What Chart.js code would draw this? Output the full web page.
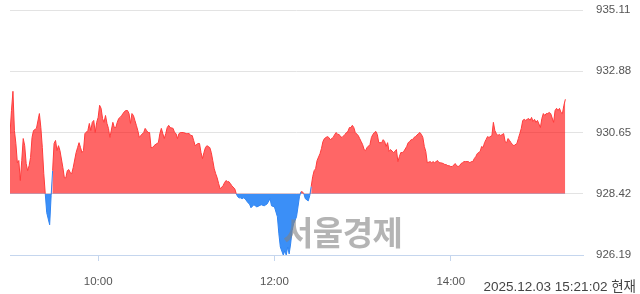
<!DOCTYPE html>
<html>
<head>
<meta charset="utf-8">
<script src="https://cdn.jsdelivr.net/npm/chart.js@4.4.1/dist/chart.umd.min.js"></script>
<style>
  body { margin: 0; background: #fff; }
  #wrap { position: relative; width: 640px; height: 294px; }
  .mark { position: absolute; left: 283px; top: 214px; font: bold 33px/34px "Noto Sans CJK KR"; color: rgba(130,130,130,0.6); letter-spacing: -0.5px; }
  .stamp { position: absolute; right: 4px; top: 280px; font: 13.5px/14px "Liberation Sans", "Noto Sans CJK KR"; color: #444; }
</style>
</head>
<body>
<div id="wrap">
  <canvas id="kospi" width="640" height="294"></canvas>
  <div class="mark">서울경제</div>
  <div class="stamp">2025.12.03 15:21:02 현재</div>
</div>
<script>
// 전일 종가 기준선
const baseValue = 928.42;
const yTicks = [926.19, 928.42, 930.65, 932.88, 935.11];
// 10:00, 12:00, 14:00 (09:00 기준 분)
const xTicks = [60, 180, 300];

// 09:00 부터 경과 분
const minutesFromOpen = [
  0, 1, 2, 3, 4, 5, 6, 7, 8, 9, 10, 11, 12, 13, 14, 15, 16, 18, 20, 21,
  22, 23, 24, 25, 27, 28, 29, 30, 31, 32, 33, 34, 36, 37, 38, 39, 40, 41, 42, 43,
  45, 46, 47, 48, 49, 50, 51, 53, 54, 55, 56, 57, 58, 59, 60, 61, 62, 63, 64, 65,
  66, 67, 68, 70, 71, 72, 73, 74, 75, 76, 78, 79, 80, 81, 82, 83, 84, 85, 86, 87,
  88, 89, 91, 92, 93, 94, 95, 96, 97, 98, 100, 101, 102, 103, 104, 105, 106, 107, 108, 109,
  111, 112, 113, 114, 115, 116, 117, 118, 120, 121, 122, 123, 124, 125, 126, 128, 129, 130, 131, 132,
  133, 134, 136, 137, 138, 139, 140, 141, 142, 143, 145, 146, 147, 148, 149, 150, 151, 153, 154, 155,
  156, 157, 158, 159, 160, 162, 163, 164, 166, 168, 171, 173, 175, 177, 178, 180, 182, 183, 184, 186,
  187, 188, 189, 190, 191, 192, 193, 195, 196, 197, 198, 199, 200, 201, 203, 204, 205, 206, 207, 208,
  209, 211, 212, 213, 214, 216, 217, 218, 220, 221, 222, 223, 224, 225, 226, 228, 229, 230, 231, 232,
  233, 234, 235, 237, 238, 239, 240, 241, 242, 243, 245, 246, 247, 248, 249, 250, 251, 253, 254, 255,
  256, 257, 258, 259, 261, 262, 263, 264, 265, 266, 267, 268, 270, 271, 272, 273, 274, 275, 276, 278,
  279, 280, 281, 282, 283, 284, 286, 287, 288, 289, 290, 291, 292, 293, 295, 296, 297, 298, 299, 300,
  301, 303, 304, 305, 306, 307, 308, 309, 310, 312, 313, 314, 315, 316, 317, 318, 320, 321, 322, 323,
  324, 325, 326, 328, 329, 330, 331, 332, 333, 334, 336, 337, 338, 339, 340, 341, 342, 343, 345, 346,
  347, 348, 349, 350, 351, 352, 353, 354, 355, 356, 357, 358, 359, 361, 362, 363, 364, 365, 366, 367,
  368, 370, 371, 372, 373, 374, 375, 376, 377, 378
];

const prices = [
  930.61, 931.45, 932.15, 930.72, 930.25, 929.55, 929.63, 928.90, 929.63, 930.43, 930.17, 929.52, 929.26, 929.44, 929.74, 930.47, 930.72, 930.80, 931.34, 930.83,
  930.10, 929.15, 928.42, 927.73, 927.29, 928.35, 929.26, 930.25, 930.36, 929.99, 930.17, 929.99, 929.37, 929.00, 929.00, 929.26, 929.30, 929.19, 929.15, 929.37,
  929.92, 930.10, 930.28, 930.10, 929.92, 929.99, 930.61, 930.72, 930.98, 930.72, 931.02, 931.09, 930.65, 931.02, 931.20, 931.64, 931.53, 931.16, 931.02, 931.27,
  930.98, 930.80, 930.47, 931.02, 930.83, 930.83, 931.02, 931.16, 931.20, 931.27, 931.42, 931.45, 931.45, 931.34, 930.98, 931.34, 931.27, 931.09, 930.91, 930.72,
  930.47, 930.54, 930.65, 930.80, 930.72, 930.65, 930.65, 930.10, 930.10, 930.17, 930.25, 930.28, 930.61, 930.80, 930.61, 930.43, 930.61, 930.83, 930.91, 930.83,
  930.80, 930.65, 930.61, 930.43, 930.61, 930.65, 930.65, 930.65, 930.61, 930.61, 930.61, 930.54, 930.54, 930.36, 930.17, 930.25, 930.25, 929.92, 929.70, 929.92,
  930.10, 930.17, 930.10, 929.92, 929.63, 929.33, 929.15, 929.00, 928.79, 928.60, 928.71, 928.82, 928.90, 928.86, 928.86, 928.79, 928.71, 928.60, 928.42, 928.31,
  928.27, 928.27, 928.24, 928.27, 928.24, 928.09, 928.05, 927.91, 928.02, 927.94, 928.02, 927.98, 928.05, 928.24, 927.98, 927.94, 927.58, 926.96, 926.48, 926.19,
  926.34, 926.19, 926.48, 926.23, 926.59, 927.07, 927.32, 927.58, 927.94, 928.31, 928.49, 928.49, 928.42, 928.24, 928.16, 928.35, 928.68, 929.04, 929.26, 929.33,
  929.63, 929.88, 930.07, 930.32, 930.43, 930.50, 930.47, 930.39, 930.47, 930.58, 930.65, 930.58, 930.58, 930.50, 930.47, 930.58, 930.65, 930.69, 930.83, 930.83,
  930.91, 930.83, 930.65, 930.54, 930.43, 930.32, 930.21, 930.03, 929.99, 930.10, 930.21, 930.47, 930.58, 930.65, 930.69, 930.58, 930.28, 930.28, 930.39, 930.32,
  930.14, 930.28, 929.96, 930.03, 929.92, 929.96, 930.03, 929.59, 929.77, 929.92, 929.92, 929.96, 930.14, 930.28, 930.32, 930.39, 930.39, 930.47, 930.50, 930.61,
  930.65, 930.58, 930.47, 930.14, 929.96, 929.55, 929.59, 929.55, 929.59, 929.55, 929.59, 929.63, 929.55, 929.55, 929.52, 929.48, 929.48, 929.44, 929.44, 929.41,
  929.41, 929.52, 929.44, 929.41, 929.44, 929.52, 929.55, 929.59, 929.59, 929.59, 929.55, 929.59, 929.59, 929.70, 929.77, 929.88, 929.96, 930.14, 930.10, 930.28,
  930.39, 930.50, 930.47, 930.54, 931.02, 930.72, 930.61, 930.54, 930.58, 930.54, 930.61, 930.32, 930.28, 930.43, 930.36, 930.28, 930.21, 930.17, 930.25, 930.43,
  930.61, 930.80, 931.09, 931.13, 931.09, 931.13, 931.16, 931.09, 931.20, 931.05, 931.13, 931.02, 931.09, 930.83, 931.16, 931.34, 931.27, 931.34, 931.34, 931.38,
  931.34, 931.02, 931.45, 931.53, 931.45, 931.53, 931.38, 931.34, 931.64, 931.86
];

const upLine = '#ff3b3b';
const downLine = '#2f84f2';
const labelFont = { family: '"Liberation Sans", "Noto Sans CJK KR"', size: 11.5 };

const toClock = (m) => {
  const h = 9 + Math.floor(m / 60);
  const mm = m % 60;
  return String(h).padStart(2, '0') + ':' + String(mm).padStart(2, '0');
};

new Chart(document.getElementById('kospi'), {
  type: 'line',
  data: {
    datasets: [
      {
        data: minutesFromOpen.map((m, i) => ({ x: m, y: prices[i] })),
        borderColor: upLine,
        borderWidth: 1,
        pointRadius: 0,
        tension: 0,
        fill: {
          target: { value: baseValue },
          above: 'rgba(255, 0, 0, 0.6)',
          below: 'rgba(10, 115, 245, 0.8)',
        },
        segment: {
          borderColor: (c) => (c.p0.parsed.y < baseValue || c.p1.parsed.y < baseValue ? downLine : upLine),
        },
      },
    ],
  },
  options: {
    responsive: false,
    animation: false,
    layout: { padding: { left: 10, top: 10, right: 0, bottom: 0 } },
    plugins: {
      legend: { display: false },
      tooltip: { enabled: false },
    },
    scales: {
      x: {
        type: 'linear',
        min: 0,
        max: 390,
        afterBuildTicks: (s) => { s.ticks = xTicks.map((v) => ({ value: v })); },
        afterFit: (s) => { s.height = 39; s.paddingLeft = 0; s.paddingRight = 0; },
        grid: { drawOnChartArea: false, drawTicks: true, tickLength: 6, color: '#c5d6ee' },
        border: { color: '#c5d6ee' },
        ticks: { padding: 14, color: '#555', font: labelFont, maxRotation: 0, callback: (v) => toClock(v) },
      },
      y: {
        position: 'right',
        min: 926.19,
        max: 935.11,
        afterBuildTicks: (s) => { s.ticks = yTicks.map((v) => ({ value: v })); },
        afterFit: (s) => { s.width = 57; s.paddingTop = 0; s.paddingBottom = 0; },
        grid: { color: '#e3e3e3', drawTicks: false },
        border: { display: false },
        ticks: { padding: 13, color: '#555', font: labelFont, callback: (v) => v.toFixed(2) },
      },
    },
  },
});
</script>
</body>
</html>
